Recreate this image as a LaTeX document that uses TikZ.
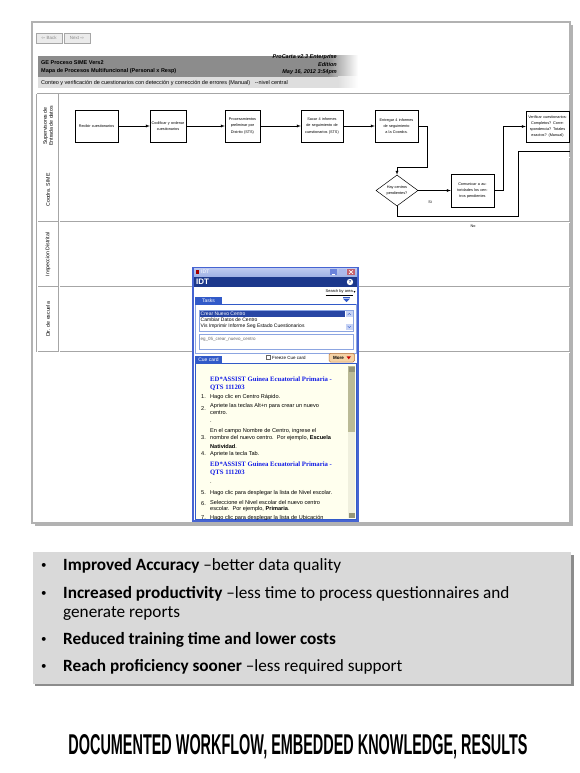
\documentclass[tikz,border=0pt]{standalone}
\usepackage{fontspec}
\usepackage{graphicx}
\usetikzlibrary{arrows,shapes.geometric}

\newfontfamily\uifont{Liberation Sans}
\newfontfamily\cuefont{Liberation Serif}
\newfontfamily\bulletfont{Carlito}
\newfontfamily\bannerfont{Liberation Sans}
\newfontfamily\arrowglyphs{DejaVu Sans}

\newcommand{\boxfont}{\uifont\fontsize{3.8}{6.2}\selectfont}
\newcommand{\hdrfont}{\uifont\fontsize{5.5}{6}\selectfont}
\newcommand{\winfont}{\uifont\fontsize{5}{6}\selectfont}
\newcommand{\cuetext}{\uifont\fontsize{5.6}{7}\selectfont}
\newcommand{\cuehead}{\cuefont\bfseries\fontsize{6.7}{8}\selectfont}

\definecolor{hdrgray}{RGB}{140,140,140}
\definecolor{subgray}{RGB}{222,222,222}
\definecolor{winblue}{RGB}{70,100,210}
\definecolor{titletop}{RGB}{190,202,240}
\definecolor{titlebot}{RGB}{160,178,228}
\definecolor{idtbar}{RGB}{28,56,140}
\definecolor{tabblue}{RGB}{50,90,200}
\definecolor{paneblue}{RGB}{140,165,225}
\definecolor{selblue}{RGB}{40,70,165}
\definecolor{scrollbtn}{RGB}{200,212,245}
\definecolor{cuebg}{RGB}{255,255,238}
\definecolor{scrollthumb}{RGB}{186,186,150}
\definecolor{scrolltrack}{RGB}{240,240,222}
\definecolor{morefill}{RGB}{245,210,165}
\definecolor{moredraw}{RGB}{190,120,60}
\definecolor{closered}{RGB}{196,96,110}
\definecolor{cuelink}{RGB}{20,30,230}
\definecolor{bulletbg}{RGB}{217,217,217}

\tikzstyle{pt} = [coordinate]
\tikzstyle{frame} = [draw=black!30, line width=1.2pt]
\tikzstyle{lane} = [draw=black!35, line width=0.45pt, double=white, double distance=0.7pt]
\tikzstyle{lanelbl} = [rotate=90, align=center, font=\uifont\fontsize{5.2}{6.2}\selectfont]
\tikzstyle{proc} = [draw=black, fill=white, line width=0.5pt, minimum height=32, inner sep=0.5pt, align=center, font=\boxfont]
\tikzstyle{decide} = [diamond, draw=black, fill=white, line width=0.5pt, aspect=1.35, minimum width=42, minimum height=31, inner sep=0, align=center, font=\boxfont]
\tikzstyle{flow} = [>=latex, ->, line width=0.4pt]
\tikzstyle{wire} = [line width=0.4pt]
\tikzstyle{navbtn} = [draw=black!35, fill=black!8, text=black!45, minimum width=26, minimum height=10, inner sep=0, font=\uifont\fontsize{4.5}{5}\selectfont]
\tikzstyle{bul} = [anchor=west, inner sep=0, font=\bulletfont\fontsize{17.2}{20}\selectfont]
\tikzstyle{dot} = [anchor=west, inner sep=0, font=\bulletfont\fontsize{11}{12}\selectfont]

\begin{document}
\begin{tikzpicture}[x=1pt,y=-1pt]
\useasboundingbox (0,0) rectangle (580,773);

%Screenshot frame
	\fill[black!30] (34.5,25) rectangle (573,526);
	\draw[frame,fill=white] (32,22) rectangle (570,523);
	\node[navbtn] (back) at (49,38) {{\arrowglyphs ⇦} Back};
	\node[navbtn] (next) at (77,38) {Next {\arrowglyphs ⇨}};

%Header
	\fill[hdrgray] (38,56) rectangle (328,77);
	\shade[left color=hdrgray,right color=white] (328,56) rectangle (358,77);
	\fill[subgray] (38,77) rectangle (338,88);
	\shade[left color=subgray,right color=white] (338,77) rectangle (358,88);
	\node[anchor=west,inner sep=0,font=\hdrfont\bfseries] (hdr1) at (41,62.5) {GE Proceso SIME Vers2};
	\node[anchor=west,inner sep=0,font=\hdrfont\bfseries] (hdr2) at (41,71.5) {Mapa de Procesos Multifuncional (Personal x Resp)};
	\node[anchor=east,inner sep=0,font=\hdrfont\bfseries\itshape] (ed1) at (337,57.5) {ProCarta v2.3 Enterprise};
	\node[anchor=east,inner sep=0,font=\hdrfont\bfseries\itshape] (ed2) at (337,64.5) {Edition};
	\node[anchor=east,inner sep=0,font=\hdrfont\bfseries\itshape] (ed3) at (337,72) {May 16, 2012 3:54pm};
	\node[anchor=west,inner sep=0,font=\hdrfont] (sub) at (41,83) {Conteo y verificación de cuestionarios con detección y corrección de errores (Manual)\ \ \ --nivel central};

%Lanes
	\draw[lane] (37,94) -- (570,94);
	\draw[lane] (37,157.5) -- (570,157.5);
	\draw[lane] (37,222) -- (570,222);
	\draw[lane] (37,287) -- (570,287);
	\draw[lane] (37,352) -- (570,352);
	\draw[lane] (37,94) -- (37,352);
	\draw[lane] (59,94) -- (59,352);
	\node[lanelbl] (l1) at (48,126) {Supervisores de\\Entrada de datos};
	\node[lanelbl] (l2) at (48,190) {Coodra. SIME};
	\node[lanelbl] (l3) at (48,254.5) {Inspeccion Distrital};
	\node[lanelbl] (l4) at (48,319.5) {Dir. de escuela};

%Nodes
	\node[proc,minimum width=43,text width=42pt] (b1) at (96.5,126) {Recibir cuestionarios};
	\node[proc,minimum width=36,text width=35pt] (b2) at (168,126) {Codificar y ordenar cuestionarios};
	\node[proc,minimum width=35,text width=34pt] (b3) at (242.5,126) {Procesamientos preliminar por Distrito (STS)};
	\node[proc,minimum width=42,text width=41pt] (b4) at (322,126) {Sacar 4 informes de seguimiento de cuestionarios (STS)};
	\node[proc,minimum width=43,text width=42pt] (b5) at (396.5,126) {Entregar 4 informes de seguimiento a la Coordra.};
	\node[proc,minimum width=43,text width=42pt,minimum height=31] (b6) at (547.5,126.5) {Verificar cuestionarios: Completos? Correspondencia? Totales exactos? (Manual)};
	\node[decide] (d1) at (397,190.5) {Hay centros\\pendientes?};
	\node[proc,minimum width=43,text width=40pt,minimum height=33] (b7) at (472.5,190.5) {Comunicar a autoridades los centros pendientes};
	\node[pt] (k1) at (427,167) {};
	\node[pt] (k2) at (503,190.5) {};
	\node[pt] (k3) at (518,216) {};
	\node[pt] (k4) at (570,151) {};
	\node[pt] (k5) at (570,126.5) {};

%Connectio
	\draw[flow] (b1) -- (b2);
	\draw[flow] (b2) -- (b3);
	\draw[flow] (b3) -- (b4);
	\draw[flow] (b4) -- (b5);
	\draw[flow] (b5.east) -| (k1) -| (d1.north);
	\draw[flow] (d1.east) -- (b7.west);
	\draw[flow] (b7.east) -- (k2) |- (b6.west);
	\draw[wire] (d1.south) |- (k3) |- (k4);
	\draw[wire] (b6.east) -- (k5);
	\node[font=\boxfont] (si) at (430,202) {Si};
	\node[font=\boxfont] (no) at (473,226.5) {No};

%IDT window
	\fill[winblue] (192,267) rectangle (359,521.5);
	\shade[top color=titletop,bottom color=titlebot] (194,268) rectangle (357,276.5);
	\fill[red!65!black] (195.5,270) rectangle (199,273.5);
	\node[anchor=west,inner sep=0,text=white,font=\winfont] (wtitle) at (201,272) {IDT};
	\fill[winblue!80] (330,268.7) rectangle (337,275.3);
	\draw[white,line width=0.6pt] (331.5,273.8) -- (334.5,273.8);
	\fill[winblue!45] (338.5,268.7) rectangle (345.5,275.3);
	\fill[closered] (347,268.7) rectangle (355,275.3);
	\draw[white,line width=0.6pt] (349,270.3) -- (353,273.8) (349,273.8) -- (353,270.3);
	\fill[idtbar] (194,277) rectangle (357,287);
	\node[anchor=west,inner sep=0,text=white,font=\uifont\bfseries\fontsize{8}{8}\selectfont] (wname) at (196,282) {IDT};
	\fill[white] (350,282) circle (3.2);
	\node[inner sep=0,text=idtbar,font=\uifont\bfseries\fontsize{4.5}{5}\selectfont] (help) at (350,282) {?};
	\fill[white] (194,287) rectangle (357,519.5);
	\node[anchor=east,inner sep=0,font=\uifont\fontsize{4}{4.5}\selectfont] (search) at (353,292.5) {\underline{Search by area}};
	\node[anchor=west,inner sep=0,font=\arrowglyphs\fontsize{4}{4.5}\selectfont] (searchdn) at (353.5,292.5) {▾};

	\fill[tabblue] (195,296.5) rectangle (222,304);
	\node[inner sep=0,text=white,font=\winfont] (tasks) at (208.5,300.4) {Tasks};
	\draw[tabblue,line width=0.3pt] (343,297.3) -- (350,297.3);
	\fill[tabblue] (343,298.6) -- (350,298.6) -- (346.5,302) -- cycle;
	\draw[paneblue,line width=0.7pt] (195,304) rectangle (356,353);
	\draw[tabblue,line width=0.8pt] (195,304) -- (356,304);
	\draw[paneblue,line width=0.5pt] (199,310) rectangle (353,331);
	\fill[selblue] (199.5,310.5) rectangle (345,316.7);
	\node[anchor=west,inner sep=0,text=white,font=\winfont] (t1) at (200.5,313.7) {Crear Nuevo Centro};
	\node[anchor=west,inner sep=0,font=\winfont] (t2) at (200.5,320) {Cambiar Datos de Centro};
	\node[anchor=west,inner sep=0,font=\winfont] (t3) at (200.5,326.5) {Vis Imprimir Informe Seg Estado Cuestionarios};
	\fill[scrollbtn] (346,311) rectangle (352.5,317);
	\fill[scrollbtn] (346,324) rectangle (352.5,330);
	\draw[tabblue,line width=0.4pt] (347.7,315) -- (349.25,313.3) -- (350.8,315);
	\draw[tabblue,line width=0.4pt] (347.7,326) -- (349.25,327.7) -- (350.8,326);
	\draw[paneblue,line width=0.5pt] (199,334) rectangle (353,349.5);
	\node[anchor=west,inner sep=0,text=black!60,font=\uifont\fontsize{4.5}{5}\selectfont] (eg) at (200.5,339) {eg\_05\_crear\_nuevo\_centro};

	\fill[tabblue] (195,356) rectangle (222,363);
	\node[inner sep=0,text=white,font=\winfont] (cue) at (208.5,359.6) {Cue card};
	\draw[black!60,line width=0.4pt,fill=white] (266,355.6) rectangle (270,359.6);
	\node[anchor=west,inner sep=0,font=\uifont\fontsize{4.5}{5}\selectfont] (freeze) at (272,357.8) {Freeze Cue card};
	\draw[moredraw,fill=morefill,line width=0.5pt,rounded corners=1.5pt] (329,353.3) rectangle (354.5,362);
	\node[anchor=west,inner sep=0,font=\uifont\bfseries\fontsize{4.5}{5}\selectfont] (more) at (333,357.7) {More};
	\fill[red!80!black] (346.5,356.3) -- (351,356.3) -- (348.75,359.3) -- cycle;
	\draw[tabblue,line width=0.8pt,fill=cuebg] (195,363) rectangle (356,519.5);
	\fill[scrolltrack] (348,366) rectangle (355,518);
	\fill[scrollthumb] (348,366) rectangle (355,432);
	\fill[scrollthumb!80!black] (348.5,366.5) rectangle (354.5,371.5);
	\fill[scrollthumb!80!black] (348.5,512.5) rectangle (354.5,517.5);

	\begin{scope}
	\clip (196,364) rectangle (347,519);
	\node[anchor=west,inner sep=0,text=cuelink,font=\cuehead] (h1) at (210,379) {ED*ASSIST Guinea Ecuatorial Primaria -};
	\node[anchor=west,inner sep=0,text=cuelink,font=\cuehead] (h2) at (210,387.5) {QTS 111203};
	\node[anchor=west,inner sep=0,font=\cuetext] (n1) at (201,397) {1.};
	\node[anchor=west,inner sep=0,font=\cuetext] (s1) at (210,397) {Hago clic en Centro Rápido.};
	\node[anchor=west,inner sep=0,font=\cuetext] (n2) at (201,409) {2.};
	\node[anchor=west,inner sep=0,font=\cuetext] (s2a) at (210,406) {Apriete las teclas Alt+n para crear un nuevo};
	\node[anchor=west,inner sep=0,font=\cuetext] (s2b) at (210,413) {centro.};
	\node[anchor=west,inner sep=0,font=\cuetext] (dot1) at (210,422) {.};
	\node[anchor=west,inner sep=0,font=\cuetext] (s3a) at (210,431) {En el campo Nombre de Centro, ingrese el};
	\node[anchor=west,inner sep=0,font=\cuetext] (n3) at (201,438) {3.};
	\node[anchor=west,inner sep=0,font=\cuetext] (s3b) at (210,438) {nombre del nuevo centro.\ \ Por ejemplo, \textbf{Escuela}};
	\node[anchor=west,inner sep=0,font=\cuetext] (s3c) at (210,446) {\textbf{Natividad}.};
	\node[anchor=west,inner sep=0,font=\cuetext] (n4) at (201,454) {4.};
	\node[anchor=west,inner sep=0,font=\cuetext] (s4) at (210,454) {Apriete la tecla Tab.};
	\node[anchor=west,inner sep=0,text=cuelink,font=\cuehead] (h3) at (210,464) {ED*ASSIST Guinea Ecuatorial Primaria -};
	\node[anchor=west,inner sep=0,text=cuelink,font=\cuehead] (h4) at (210,473) {QTS 111203};
	\node[anchor=west,inner sep=0,font=\cuetext] (dot2) at (210,483) {.};
	\node[anchor=west,inner sep=0,font=\cuetext] (n5) at (201,493) {5.};
	\node[anchor=west,inner sep=0,font=\cuetext] (s5) at (210,493) {Hago clic para desplegar la lista de Nivel escolar.};
	\node[anchor=west,inner sep=0,font=\cuetext] (n6) at (201,504) {6.};
	\node[anchor=west,inner sep=0,font=\cuetext] (s6a) at (210,502) {Seleccione el Nivel escolar del nuevo centro};
	\node[anchor=west,inner sep=0,font=\cuetext] (s6b) at (210,509) {escolar.\ \ Por ejemplo, \textbf{Primaria}.};
	\node[anchor=west,inner sep=0,font=\cuetext] (n7) at (201,518) {7.};
	\node[anchor=west,inner sep=0,font=\cuetext] (s7) at (210,518) {Hago clic para desplegar la lista de Ubicación};
	\end{scope}

%Benefits
	\fill[black!45] (35,554.5) rectangle (573.5,686);
	\fill[bulletbg] (33,552) rectangle (571,683.5);
	\node[dot] (d1b) at (41,566) {•};
	\node[bul] (p1) at (63,566) {\textbf{Improved Accuracy} –better data quality};
	\node[dot] (d2b) at (41,594) {•};
	\node[bul] (p2a) at (63,594) {\textbf{Increased productivity} –less time to process questionnaires and};
	\node[bul] (p2b) at (63,614) {generate reports};
	\node[dot] (d3b) at (41,640) {•};
	\node[bul] (p3) at (63,640) {\textbf{Reduced training time and lower costs}};
	\node[dot] (d4b) at (41,667) {•};
	\node[bul] (p4) at (63,667) {\textbf{Reach proficiency sooner} –less required support};

%Title
	\node[inner sep=0] (title) at (298,747) {\resizebox{459pt}{20pt}{\bannerfont\bfseries DOCUMENTED WORKFLOW, EMBEDDED KNOWLEDGE, RESULTS}};

\end{tikzpicture}
\end{document}
